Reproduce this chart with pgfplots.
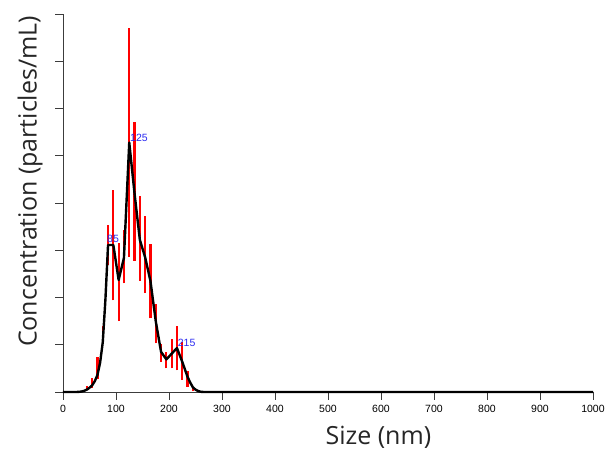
\documentclass[border=0pt]{standalone}
\usepackage{pgfplots}
\pgfplotsset{compat=1.18}
\usepackage{fontspec}
\setmainfont{Liberation Sans}
\newfontfamily\labelfont{Open Sans}
\definecolor{peakblue}{RGB}{40,40,240}
\definecolor{axisgray}{RGB}{60,60,60}
\begin{document}
\begin{tikzpicture}
\begin{axis}[
  scale only axis,
  width=530pt, height=378pt,
  xmin=0, xmax=1000, ymin=0, ymax=8,
  axis lines*=left,
  axis line style={axisgray, line width=0.8pt},
  tick style={axisgray, line width=0.8pt},
  tick align=outside,
  major tick length=8pt,
  xtick={0,100,...,1000},
  ytick={0,1,...,8},
  yticklabels={},
  /pgf/number format/assume math mode=true,
  /pgf/number format/1000 sep={},
  xticklabel style={font=\fontsize{10.5}{12}\selectfont, text=black, yshift=-2pt},
  xlabel={Size (nm)},
  ylabel={Concentration (particles/mL)},
  xlabel style={font=\labelfont\fontsize{25}{28}\selectfont, text=black!85, at={(axis description cs:0.595,-0.119)}, anchor=center},
  ylabel style={font=\labelfont\fontsize{25}{28}\selectfont, text=black!85, at={(axis description cs:-0.062,0.557)}, anchor=center},
  clip=false,
]
% error bars (bottom of bar, length of bar)
\addplot[draw=none, mark=none, red, error bars/.cd, y dir=plus, y explicit,
  error mark=none, error bar style={red, line width=2.2pt}]
  table[x=x, y=lo, y error=len] {
x lo len
45 0.04 0.08
55 0.08 0.21
65 0.28 0.47
75 1.04 0.36
85 2.69 0.85
95 1.94 2.34
105 1.50 1.65
115 2.30 1.13
125 2.86 4.85
135 2.78 2.93
145 2.35 1.79
155 2.09 1.63
165 1.56 1.57
175 1.03 0.84
185 0.64 0.37
195 0.50 0.35
205 0.50 0.63
215 0.46 0.93
225 0.26 0.80
235 0.11 0.33
245 0.02 0.08
};
% mean curve
\addplot[black, line width=2.4pt, mark=none, line join=round] table {
x y
0 0
25 0
30 0.003
35 0.01
40 0.025
45 0.05
50 0.09
55 0.14
60 0.23
65 0.36
70 0.62
75 1.05
80 1.95
85 3.11
95 3.11
105 2.37
115 2.84
125 5.28
135 4.2
145 3.22
155 2.85
165 2.35
175 1.5
185 0.85
195 0.69
205 0.81
215 0.93
225 0.64
235 0.32
240 0.2
245 0.1
250 0.05
255 0.02
260 0.005
265 0
1000 0
};
\node[anchor=south west, inner sep=0pt, text=peakblue, font=\fontsize{10.5}{12}\selectfont] at (axis cs:83,3.15) {85};
\node[anchor=south west, inner sep=0pt, text=peakblue, font=\fontsize{10.5}{12}\selectfont] at (axis cs:126.4,5.3) {125};
\node[anchor=south west, inner sep=0pt, text=peakblue, font=\fontsize{10.5}{12}\selectfont] at (axis cs:216.4,0.95) {215};
\end{axis}
\pgfresetboundingbox
\path (-63pt,-62pt) rectangle (548pt,392pt);
\end{tikzpicture}
\end{document}
